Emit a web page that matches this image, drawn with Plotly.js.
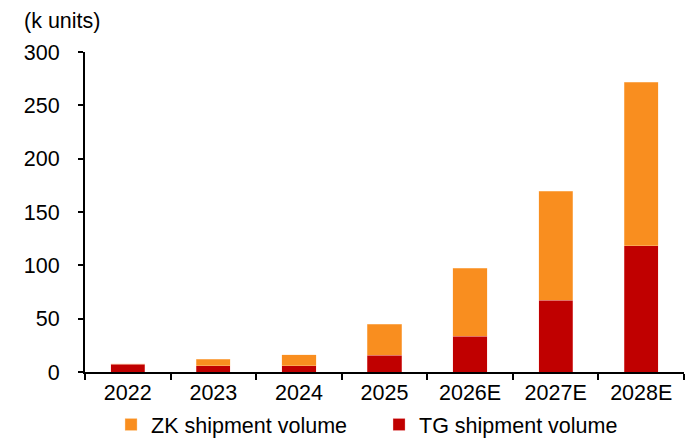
<!DOCTYPE html>
<html>
<head>
<meta charset="utf-8">
<script src="https://cdn.plot.ly/plotly-3.0.1.min.js"></script>
<style>
  html, body { margin: 0; padding: 0; background: #fff; }
  #chart { width: 694px; height: 443px; }
</style>
</head>
<body>
<div id="chart"></div>
<script>
// Annual shipment volumes, thousand units
const years = ['2022', '2023', '2024', '2025', '2026E', '2027E', '2028E'];
const tgVolume = [7.3, 5.8, 5.8, 15.5, 33.5, 67.5, 118.5];
const zkVolume = [0.5, 6.2, 10.5, 29.3, 64, 102, 153];
const yTicks = [0, 50, 100, 150, 200, 250, 300];

const FONT = 'Liberation Sans, Arial, sans-serif';
const FS = 21.5;

const traces = [
  {
    type: 'bar',
    name: 'TG shipment volume',
    x: years,
    y: tgVolume,
    marker: { color: '#C00000', line: { color: 'rgba(255,200,200,0.6)', width: 0.5 } },
    hoverinfo: 'x+y+name'
  },
  {
    type: 'bar',
    name: 'ZK shipment volume',
    x: years,
    y: zkVolume,
    marker: { color: '#F98E1F', line: { color: 'rgba(255,220,180,0.7)', width: 0.5 } },
    hoverinfo: 'x+y+name'
  }
];

const layout = {
  width: 694,
  height: 443,
  margin: { l: 85, r: 10, t: 52, b: 71, autoexpand: false },
  paper_bgcolor: '#fff',
  plot_bgcolor: '#fff',
  barmode: 'stack',
  bargap: 0.6,
  font: { family: FONT, size: FS, color: '#000' },
  showlegend: true,
  legend: {
    orientation: 'h',
    traceorder: 'reversed',
    xref: 'container',
    yref: 'container',
    x: 0.16,
    xanchor: 'left',
    y: 0.088,
    yanchor: 'top',
    entrywidth: 223,
    font: { family: FONT, size: FS, color: '#000' },
    bgcolor: 'rgba(0,0,0,0)'
  },
  xaxis: {
    type: 'category',
    showline: true,
    linecolor: '#000',
    linewidth: 2,
    ticks: 'outside',
    tickson: 'boundaries',
    ticklen: 6,
    tickwidth: 2,
    tickcolor: '#000',
    showgrid: false,
    zeroline: false,
    automargin: false,
    tickfont: { family: FONT, size: FS, color: '#000' }
  },
  yaxis: {
    range: [0, 300],
    tickvals: yTicks,
    ticktext: yTicks.map(String),
    showline: true,
    linecolor: '#000',
    linewidth: 2,
    ticks: 'outside',
    ticklen: 5,
    tickwidth: 2,
    tickcolor: '#000',
    ticklabelstandoff: 14,
    showgrid: false,
    zeroline: false,
    automargin: false,
    tickfont: { family: FONT, size: FS, color: '#000' }
  },
  annotations: [
    {
      text: '(k units)',
      xref: 'paper', yref: 'paper',
      x: -0.105, xanchor: 'left',
      y: 1.098, yanchor: 'middle',
      showarrow: false,
      font: { family: FONT, size: FS, color: '#000' }
    }
  ]
};

Plotly.newPlot('chart', traces, layout, { displayModeBar: false, staticPlot: true });
</script>
</body>
</html>
